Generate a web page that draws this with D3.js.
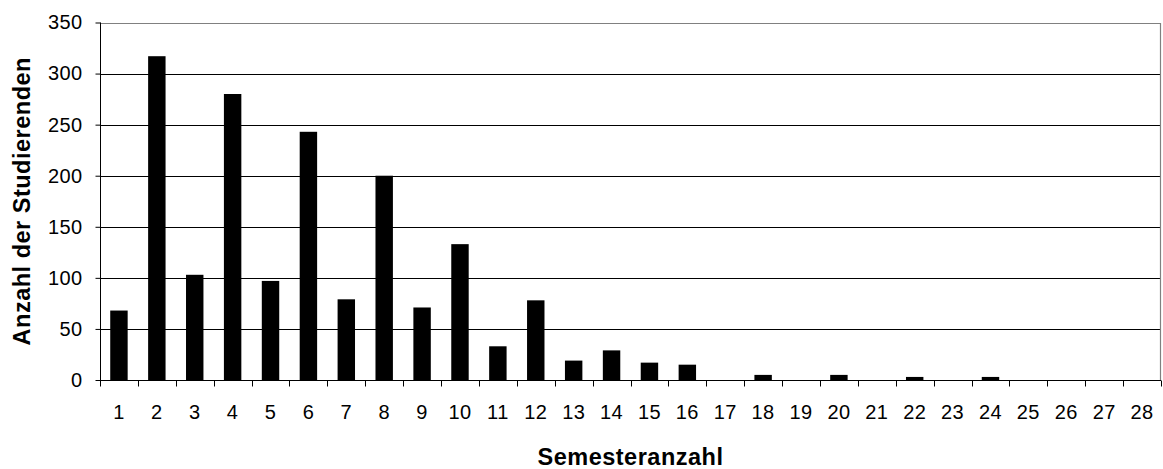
<!DOCTYPE html>
<html>
<head>
<meta charset="utf-8">
<script src="https://cdn.jsdelivr.net/npm/d3@7"></script>
<style>
  html, body { margin: 0; padding: 0; background: #fff; }
  svg { display: block; font-family: "Liberation Sans", Arial, sans-serif; }
</style>
</head>
<body>
<svg id="chart" width="1163" height="469"></svg>
<script>
// Semester counts and number of students per semester
const semesters = d3.range(1, 29).map(String);
const students = [68, 317, 103, 280, 97, 243, 79, 200, 71, 133, 33, 78, 19, 29, 17, 15, 0, 5, 0, 5, 0, 3, 0, 3, 0, 0, 0, 0];
const yTicks = [0, 50, 100, 150, 200, 250, 300, 350];
const xTitle = "Semesteranzahl";
const yTitle = "Anzahl der Studierenden";

const svg = d3.select("#chart");
const margin = { left: 100, right: 2, top: 22.5, bottom: 89 };
const W = 1163, H = 469;
const x0 = margin.left, x1 = W - margin.right;
const y0 = H - margin.bottom, y1 = margin.top;

const x = d3.scaleBand().domain(semesters).range([x0, x1]).paddingInner(0.54).paddingOuter(0.27);
const xEdges = d3.scaleLinear().domain([0, semesters.length]).range([x0, x1]);
const y = d3.scaleLinear().domain([0, 350]).range([y0, y1]);

// horizontal gridlines
svg.append("g")
  .selectAll("line")
  .data(yTicks.filter(t => t > 0 && t < 350))
  .join("line")
  .attr("x1", x0).attr("x2", x1)
  .attr("y1", d => Math.round(y(d)) + 0.5).attr("y2", d => Math.round(y(d)) + 0.5)
  .attr("stroke", "#000").attr("stroke-width", 1);

// plot frame (top and right)
svg.append("path")
  .attr("d", `M${x0},${Math.round(y1) + 0.5}H${Math.round(x1) - 0.5}V${y0}`)
  .attr("fill", "none").attr("stroke", "#808080").attr("stroke-width", 1.2);

// bars
svg.append("g")
  .selectAll("rect")
  .data(students)
  .join("rect")
  .attr("x", (d, i) => x(semesters[i]))
  .attr("width", x.bandwidth())
  .attr("y", d => y(d))
  .attr("height", d => y(0) - y(d))
  .attr("fill", "#000");

// y axis
const yAxis = svg.append("g")
  .attr("transform", `translate(${x0 + 0.5},0)`)
  .call(d3.axisLeft(y).tickValues(yTicks).tickSize(5).tickPadding(13).tickFormat(d3.format("d")));
yAxis.select(".domain").attr("stroke", "#000").attr("d", `M0,${y1}V${y0}`);
yAxis.selectAll(".tick line").attr("stroke", "#000");
yAxis.selectAll("text")
  .attr("font-size", 20).attr("letter-spacing", "0.4px")
  .attr("fill", "#000").attr("font-family", "Liberation Sans, Arial, sans-serif");

// x axis: ticks between categories, labels centered in each band
const xAxis = svg.append("g").attr("transform", `translate(0,${Math.round(y0) + 0.5})`);
xAxis.append("line").attr("x1", x0).attr("x2", x1).attr("stroke", "#000").attr("stroke-width", 1.2);
xAxis.selectAll("line.tk")
  .data(d3.range(0, semesters.length + 1))
  .join("line").attr("class", "tk")
  .attr("x1", d => Math.round(xEdges(d)) + 0.5).attr("x2", d => Math.round(xEdges(d)) + 0.5)
  .attr("y1", 0).attr("y2", 6)
  .attr("stroke", "#000");
xAxis.selectAll("text")
  .data(semesters)
  .join("text")
  .attr("x", d => x(d) + x.bandwidth() / 2)
  .attr("y", 38.5)
  .attr("text-anchor", "middle")
  .attr("font-size", 20).attr("letter-spacing", "0.4px")
  .attr("fill", "#000")
  .text(d => d);

// axis titles
svg.append("text")
  .attr("x", (x0 + x1) / 2).attr("y", 465)
  .attr("text-anchor", "middle")
  .attr("font-size", 23.5).attr("font-weight", "bold").attr("letter-spacing", "0.5px")
  .text(xTitle);

svg.append("text")
  .attr("transform", `translate(30,${(y0 + y1) / 2}) rotate(-90)`)
  .attr("text-anchor", "middle")
  .attr("font-size", 23.5).attr("font-weight", "bold").attr("letter-spacing", "0.5px")
  .text(yTitle);
</script>
</body>
</html>
